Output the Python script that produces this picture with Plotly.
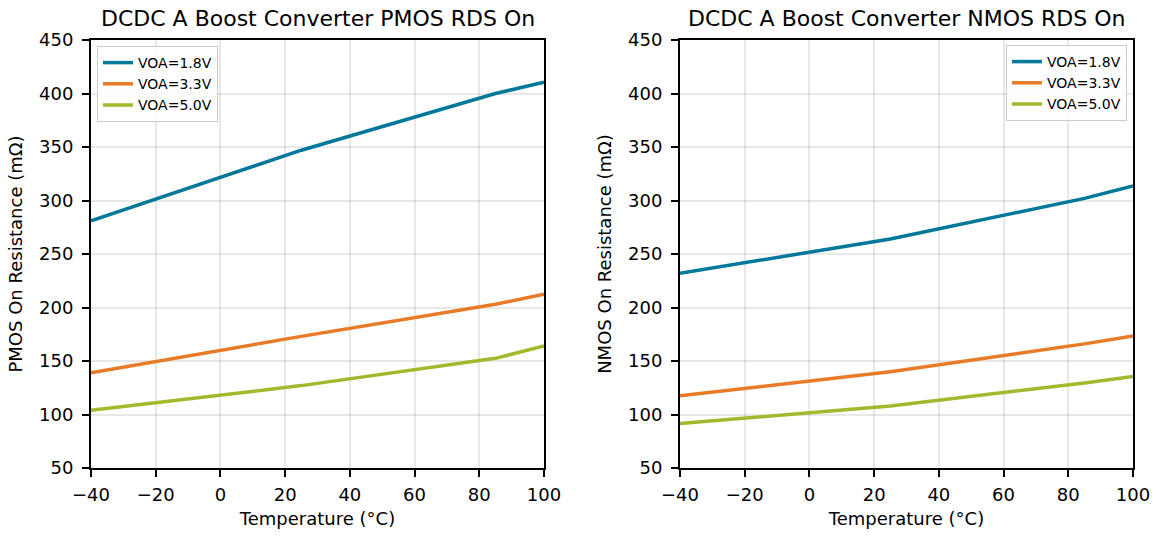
import plotly.graph_objects as go

# ---- data ----
temperature = [-40, 25, 85, 100]
series_names = ["VOA=1.8V", "VOA=3.3V", "VOA=5.0V"]
pmos_18 = [281, 347, 400, 410.5]
pmos_33 = [139, 173, 203, 212.5]
pmos_50 = [104, 127, 152.5, 164]
nmos_18 = [232, 264, 302, 313.5]
nmos_33 = [117.5, 140, 166, 173.5]
nmos_50 = [91.5, 108, 129.5, 135.5]
x_ticks = [-40, -20, 0, 20, 40, 60, 80, 100]
y_ticks = [50, 100, 150, 200, 250, 300, 350, 400, 450]
titles = ["DCDC A Boost Converter PMOS RDS On", "DCDC A Boost Converter NMOS RDS On"]
y_titles = ["PMOS On Resistance (mΩ)", "NMOS On Resistance (mΩ)"]
x_title = "Temperature (°C)"

colors = ["#00789a", "#e87b27", "#a3b82c"]
FONT = "DejaVu Sans"
W, H = 1156, 536

fig = go.Figure()
for vals, name, c in zip([pmos_18, pmos_33, pmos_50], series_names, colors):
    fig.add_trace(go.Scatter(x=temperature, y=vals, mode="lines", name=name,
                             line=dict(color=c, width=3.5), xaxis="x", yaxis="y",
                             legend="legend"))
for vals, name, c in zip([nmos_18, nmos_33, nmos_50], series_names, colors):
    fig.add_trace(go.Scatter(x=temperature, y=vals, mode="lines", name=name,
                             line=dict(color=c, width=3.5), xaxis="x2", yaxis="y2",
                             legend="legend2"))

ydom = [(H - 468) / H, (H - 40) / H]
xdom1 = [91 / W, 544 / W]
xdom2 = [680 / W, 1133 / W]

def xax(dom, anchor):
    return dict(domain=dom, anchor=anchor, range=[-40, 100], tickvals=x_ticks,
                showline=True, linecolor="black", linewidth=2, mirror=True,
                ticks="outside", ticklen=7, tickwidth=1.5, tickcolor="black",
                ticklabelstandoff=2,
                tickfont=dict(family=FONT, size=18, color="black"),
                showgrid=True, gridcolor="rgba(0,0,0,0.09)", gridwidth=1.5,
                zeroline=False, automargin=False,
                title=dict(text=x_title, font=dict(family=FONT, size=18, color="black"),
                           standoff=9))

def yax(dom, anchor, t):
    return dict(domain=dom, anchor=anchor, range=[50, 450], tickvals=y_ticks,
                showline=True, linecolor="black", linewidth=2, mirror=True,
                ticks="outside", ticklen=7, tickwidth=1.5, tickcolor="black",
                ticklabelstandoff=5,
                tickfont=dict(family=FONT, size=18, color="black"),
                showgrid=True, gridcolor="rgba(0,0,0,0.09)", gridwidth=1.5,
                zeroline=False, automargin=False,
                title=dict(text=t, font=dict(family=FONT, size=18, color="black"),
                           standoff=12))

legend_common = dict(font=dict(family=FONT, size=14, color="black"),
                     bgcolor="rgba(255,255,255,0.8)", bordercolor="#cccccc",
                     borderwidth=1, tracegroupgap=0)

fig.update_layout(
    width=W, height=H,
    margin=dict(l=0, r=0, t=0, b=0),
    paper_bgcolor="white", plot_bgcolor="white",
    xaxis=xax(xdom1, "y"), yaxis=yax(ydom, "x", y_titles[0]),
    xaxis2=xax(xdom2, "y2"), yaxis2=yax(ydom, "x2", y_titles[1]),
    legend=dict(x=97 / W, y=1 - 46 / H, xanchor="left", yanchor="top", **legend_common),
    legend2=dict(x=1127 / W, y=1 - 45 / H, xanchor="right", yanchor="top", **legend_common),
    annotations=[
        dict(text=titles[0], x=(xdom1[0] + xdom1[1]) / 2, y=1 - 18 / H, xref="paper",
             yref="paper", xanchor="center", yanchor="middle", showarrow=False,
             font=dict(family=FONT, size=22, color="black")),
        dict(text=titles[1], x=(xdom2[0] + xdom2[1]) / 2, y=1 - 18 / H, xref="paper",
             yref="paper", xanchor="center", yanchor="middle", showarrow=False,
             font=dict(family=FONT, size=22, color="black")),
    ],
)

fig.write_html("out.html", config={"displayModeBar": False},
               post_script="document.body.style.margin='0px';")
